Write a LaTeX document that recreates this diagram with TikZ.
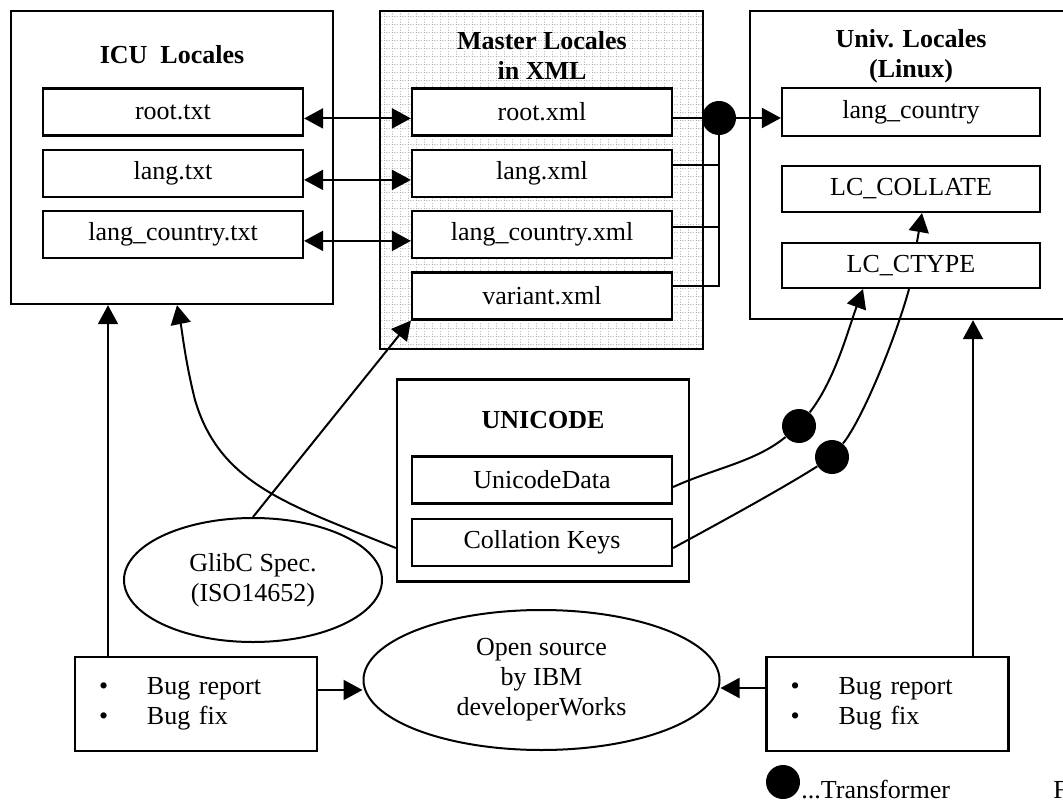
\documentclass[tikz,border=0pt]{standalone}
\usepackage{fontspec}
\setmainfont{Liberation Serif}
\usetikzlibrary{arrows.meta,patterns,shapes.geometric,positioning}

% dotted grid for the XML box
\pgfdeclarepatternformonly{xmlgrid}{\pgfpointorigin}{\pgfpoint{4pt}{4pt}}{\pgfpoint{4pt}{4pt}}{%
  \pgfpathrectangle{\pgfpoint{0pt}{0pt}}{\pgfpoint{0.5pt}{0.5pt}}%
  \pgfpathrectangle{\pgfpoint{1.33pt}{0pt}}{\pgfpoint{0.5pt}{0.5pt}}%
  \pgfpathrectangle{\pgfpoint{2.67pt}{0pt}}{\pgfpoint{0.5pt}{0.5pt}}%
  \pgfpathrectangle{\pgfpoint{0pt}{1.33pt}}{\pgfpoint{0.5pt}{0.5pt}}%
  \pgfpathrectangle{\pgfpoint{0pt}{2.67pt}}{\pgfpoint{0.5pt}{0.5pt}}%
  \pgfusepath{fill}%
}

\begin{document}
\begin{tikzpicture}[x=0.5pt, y=-0.5pt,
	font=\fontsize{13}{15}\selectfont,
	>={Triangle[length=9.5pt,width=10pt]},
	groupbox/.style={draw, line width=1.2pt, inner sep=0pt},
	filebox/.style={draw, fill=white, line width=1.1pt, minimum width=130pt, minimum height=23.5pt, inner sep=0pt},
	boxtitle/.style={font=\fontsize{13}{15}\selectfont\bfseries, align=center},
	specoval/.style={draw, ellipse, line width=1pt, align=center, inner sep=0pt},
	bugbox/.style={draw, line width=1.1pt, minimum width=121pt, minimum height=47pt, text width=97pt, inner xsep=12pt, align=left},
	dotnode/.style={circle, fill=black, minimum size=17pt, inner sep=0pt},
	link/.style={line width=1pt}]
	% page frame
	\useasboundingbox (0,0) rectangle (1063,801);
	\clip (0,0) rectangle (1063,801);
	% ICU locales
	\node[groupbox, minimum width=161pt, minimum height=146.5pt] (icu) at (172,157.5) {};
	\node[boxtitle] (icutitle) at (172,55) {ICU~~Locales};
	\node[filebox] (rtxt) at (173,112) {root.txt};
	\node[filebox] (ltxt) at (173,173.5) {lang.txt};
	\node[filebox] (ctxt) at (173,234.5) {lang\_country.txt};
	% master locales in XML
	\node[groupbox, pattern=xmlgrid, pattern color=black!35, minimum width=161.5pt, minimum height=169pt] (master) at (541.5,180) {};
	\node[boxtitle] (mastertitle) at (542,55) {Master Locales\\in XML};
	\node[filebox] (rxml) at (542,112) {root.xml};
	\node[filebox] (lxml) at (542,173.5) {lang.xml};
	\node[filebox] (cxml) at (542,234.5) {lang\_country.xml};
	\node[filebox] (vxml) at (542,296) {variant.xml};
	% universal locales
	\node[groupbox, minimum width=162.5pt, minimum height=154pt] (univ) at (912.5,165) {};
	\node[boxtitle] (univtitle) at (911,56) {Univ. Locales\\(Linux)};
	\node[filebox, minimum width=129pt, minimum height=24pt] (lcu) at (911,112) {lang\_country};
	\node[filebox, minimum width=129pt, minimum height=23pt] (collate) at (911,189) {LC\_COLLATE};
	\node[filebox, minimum width=129pt, minimum height=22.5pt] (ctype) at (911,265.5) {LC\_CTYPE};
	% unicode
	\node[groupbox, minimum width=146pt, minimum height=101pt] (unicode) at (543,480.5) {};
	\node[boxtitle] (unititle) at (543,420) {UNICODE};
	\node[filebox] (udata) at (542,480) {UnicodeData};
	\node[filebox] (ckeys) at (542,542.5) {Collation Keys};
	% ovals
	\node[specoval, minimum width=129pt, minimum height=62pt] (glibc) at (253,580) {GlibC Spec.\\(ISO14652)};
	\node[specoval, minimum width=178pt, minimum height=70pt] (oss) at (541.5,680) {Open source\\by IBM\\developerWorks};
	% bug reports
	\node[bugbox] (bugl) at (196,704) {\makebox[24pt][l]{\textbullet}Bug report\\\makebox[24pt][l]{\textbullet}Bug fix};
	\node[bugbox] (bugr) at (887.5,704) {\makebox[24pt][l]{\textbullet}Bug report\\\makebox[24pt][l]{\textbullet}Bug fix};
	% transformers
	\node[dotnode] (dota) at (719,118) {};
	\node[dotnode] (dotb) at (799,426) {};
	\node[dotnode] (dotc) at (832,457) {};
	% legend
	\node[dotnode] (legdot) at (783,782) {};
	\node[anchor=base west, inner sep=0pt] (legtext) at (801,798) {...Transformer};
	\node[anchor=base west, inner sep=0pt] (figtext) at (1053,798) {F};
	% ICU <-> XML
	\foreach \a/\b in {rtxt/rxml, ltxt/lxml, ctxt/cxml}
		\draw[link, <->] ([yshift=-3.2pt]\a.east) -- ([yshift=-3.2pt]\b.west);
	% XML -> transformer -> Linux
	\coordinate (lxo) at ([yshift=4.25pt]lxml.east);
	\coordinate (cxo) at ([yshift=3.75pt]cxml.east);
	\coordinate (vxo) at ([yshift=5pt]vxml.east);
	\draw[link] ([yshift=-3pt]rxml.east) -- (dota);
	\draw[link] (lxo) -- (lxo -| dota.center);
	\draw[link] (cxo) -- (cxo -| dota.center);
	\draw[link] (vxo) -- (vxo -| dota.center) -- (dota);
	\draw[link, ->] (dota) -- ([yshift=-3pt]lcu.west);
	\draw[link, ->] ([xshift=3pt]ctype.north) -- ([xshift=5.5pt]collate.south);
	% unicode -> transformers -> Linux
	\draw[link] ([yshift=-3.5pt]udata.east) .. controls (715,468) and (755,462) .. (dotb);
	\draw[link, ->] (dotb) .. controls (835,380) and (848,330) .. ([xshift=-24pt]ctype.south);
	\draw[link] ([yshift=-2.75pt]ckeys.east) .. controls (710,528) and (780,490) .. (dotc);
	\draw[link] (dotc) .. controls (862,420) and (895,340) .. ([xshift=-1pt]ctype.south);
	% glibc -> variant, unicode -> ICU
	\draw[link, ->] (glibc.north) -- (vxml.south west);
	\draw[link, ->] ([yshift=-33.75pt]unicode.west) .. controls (290,505) and (220,485) .. (195,400)
		.. controls (185,360) and (182,330) .. ([xshift=2.5pt]icu.south);
	% bug reports
	\coordinate (blup) at ([xshift=-44pt]bugl.north);
	\coordinate (brup) at ([xshift=42.75pt]bugr.north);
	\coordinate (blout) at ([yshift=7pt]bugl.east);
	\coordinate (brout) at ([yshift=8pt]bugr.west);
	\draw[link, ->] (blup) -- (blup |- icu.south);
	\draw[link, ->] (brup) -- (brup |- univ.south);
	\draw[link, ->] (blout) -- (blout -| oss.west);
	\draw[link, ->] (brout) -- (brout -| oss.east);
\end{tikzpicture}
\end{document}
